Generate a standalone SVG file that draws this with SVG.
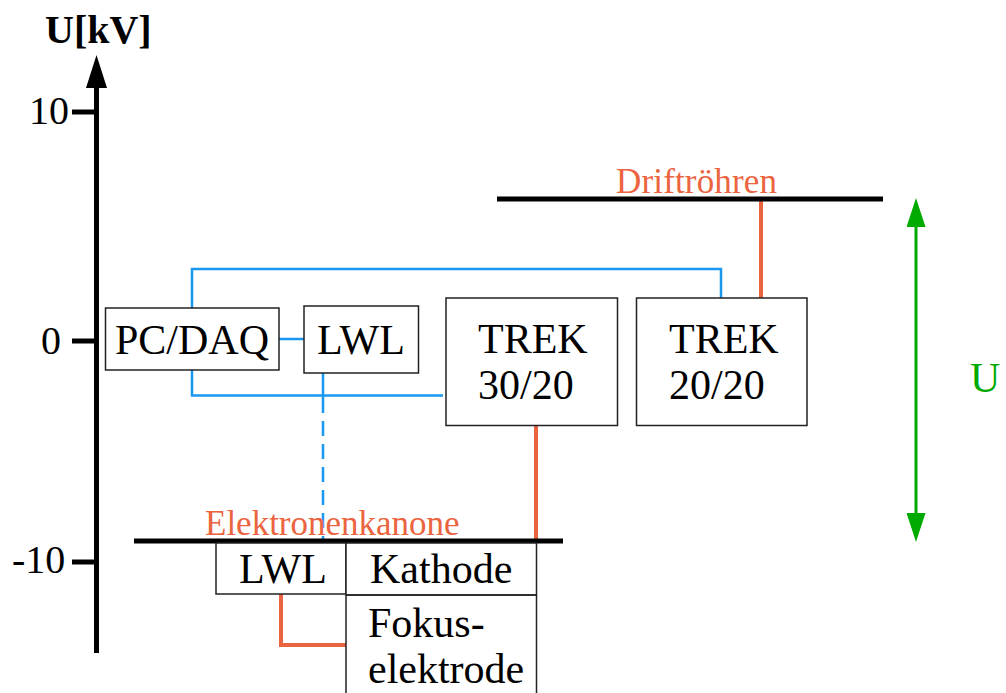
<svg xmlns="http://www.w3.org/2000/svg" width="1006" height="693" viewBox="0 0 1006 693">
<style>
text{font-family:"Liberation Serif","Times New Roman",serif;fill:#000}
.lbl{font-size:42px}
.or{fill:#EB6440;font-size:35px}
.box{fill:#fff;stroke:#222;stroke-width:1.5}
.blue{fill:none;stroke:#1A98F0;stroke-width:2.5}
.orl{fill:none;stroke:#EB6440;stroke-width:4}
.bar{stroke:#000;stroke-width:5}
</style>
<defs>
<marker id="gr" viewBox="0 0 29 19" refX="0" refY="9.5" markerWidth="29" markerHeight="19" markerUnits="userSpaceOnUse" orient="auto-start-reverse">
<path d="M0,0 L29,9.5 L0,19 z" fill="#00AA00"/>
</marker>
</defs>
<g id="axis">
<line x1="96.5" y1="653" x2="96.5" y2="84" stroke="#000" stroke-width="5"/>
<path d="M86,88 L96.5,55 L107,88 z" fill="#000"/>
<line x1="72" y1="112" x2="96" y2="112" stroke="#000" stroke-width="5"/>
<line x1="72" y1="341" x2="96" y2="341" stroke="#000" stroke-width="5"/>
<line x1="72" y1="562" x2="96" y2="562" stroke="#000" stroke-width="5"/>
<text x="45" y="43" font-size="40" font-weight="bold">U[kV]</text>
<text x="29" y="124" font-size="40">10</text>
<text x="41" y="354" font-size="40">0</text>
<text x="12" y="573" font-size="40">-10</text>
</g>
<g id="connectors">
<polyline class="blue" points="192,308 192,269 721,269 721,298"/>
<polyline class="blue" points="192,370 192,395.5 443,395.5"/>
<line class="blue" x1="279" y1="339" x2="304" y2="339"/>
<line class="blue" x1="323" y1="373" x2="323" y2="398"/>
<line class="blue" x1="323" y1="398" x2="323" y2="541" stroke-dasharray="15 8"/>
<line class="orl" x1="761" y1="200" x2="761" y2="298"/>
<line class="orl" x1="536" y1="426" x2="536" y2="541"/>
<polyline class="orl" points="281,594 281,645 346,645"/>
<line x1="916" y1="227" x2="916" y2="513" stroke="#00AA00" stroke-width="3" marker-start="url(#gr)" marker-end="url(#gr)"/>
</g>
<g id="driftroehren">
<line class="bar" x1="497" y1="199" x2="883" y2="199"/>
<text class="or" x="616" y="193" textLength="161">Driftröhren</text>
</g>
<g id="elektronenkanone">
<line class="bar" x1="134" y1="541" x2="563" y2="541"/>
<text class="or" x="205" y="535">Elektronenkanone</text>
</g>
<g id="pcdaq">
<rect class="box" x="105.5" y="308" width="173.5" height="62"/>
<text class="lbl" x="192" y="354" text-anchor="middle">PC/DAQ</text>
</g>
<g id="lwl1">
<rect class="box" x="304" y="306" width="114.5" height="67"/>
<text class="lbl" x="361" y="354" text-anchor="middle">LWL</text>
</g>
<g id="trek3020">
<rect class="box" x="446" y="298" width="171.5" height="127.5"/>
<text class="lbl" x="478" y="353">TREK</text>
<text class="lbl" x="478" y="399">30/20</text>
</g>
<g id="trek2020">
<rect class="box" x="636.5" y="298" width="170.5" height="127.5"/>
<text class="lbl" x="669" y="353">TREK</text>
<text class="lbl" x="669" y="399">20/20</text>
</g>
<g id="lwl2">
<rect class="box" x="216" y="543" width="130" height="51"/>
<text class="lbl" x="283" y="583" text-anchor="middle">LWL</text>
</g>
<g id="kathode">
<rect class="box" x="346" y="543" width="190.5" height="52"/>
<text class="lbl" x="370" y="583">Kathode</text>
</g>
<g id="fokus">
<path d="M346,595 L536.5,595 M346,595 L346,693 M536.5,595 L536.5,693" fill="none" stroke="#222" stroke-width="1.5"/>
<text class="lbl" x="368" y="637">Fokus-</text>
<text class="lbl" x="368" y="683">elektrode</text>
</g>
<g id="u-label">
<text x="970" y="392" font-size="42" style="fill:#00AA00">U</text>
</g>
</svg>
